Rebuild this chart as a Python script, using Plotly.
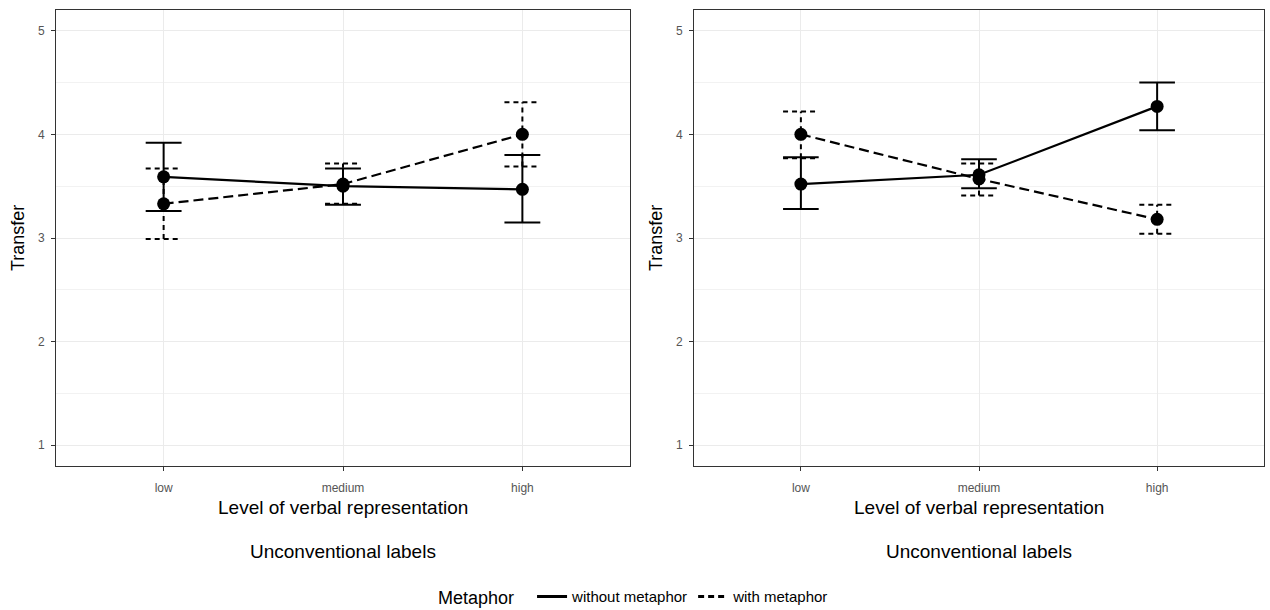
import plotly.graph_objects as go

categories = ["low", "medium", "high"]
x_pos = [1, 2, 3]

# Left panel
left_without = [3.59, 3.50, 3.47]
left_without_lo = [3.26, 3.32, 3.15]
left_without_hi = [3.92, 3.67, 3.80]
left_with = [3.33, 3.52, 4.00]
left_with_lo = [2.99, 3.33, 3.69]
left_with_hi = [3.67, 3.72, 4.31]

# Right panel
right_without = [3.52, 3.61, 4.27]
right_without_lo = [3.28, 3.48, 4.04]
right_without_hi = [3.78, 3.76, 4.50]
right_with = [4.00, 3.57, 3.18]
right_with_lo = [3.77, 3.41, 3.04]
right_with_hi = [4.22, 3.72, 3.32]

series_names = ["without metaphor", "with metaphor"]
y_ticks = [1, 2, 3, 4, 5]

CAP = 0.1
fig = go.Figure()


def err_xy(xs, lo, hi):
    ex, ey = [], []
    for x, l, h in zip(xs, lo, hi):
        ex += [x, x, None, x - CAP, x + CAP, None, x - CAP, x + CAP, None]
        ey += [l, h, None, l, l, None, h, h, None]
    return ex, ey


panels = [
    ("x", "y", left_without, left_without_lo, left_without_hi, left_with, left_with_lo, left_with_hi),
    ("x2", "y2", right_without, right_without_lo, right_without_hi, right_with, right_with_lo, right_with_hi),
]

for xa, ya, wo, wol, woh, wi, wil, wih in panels:
    for name, vals, lo, hi, dash, edash in [
        (series_names[0], wo, wol, woh, "solid", "solid"),
        (series_names[1], wi, wil, wih, "10px,5px", "5px,4px"),
    ]:
        ex, ey = err_xy(x_pos, lo, hi)
        fig.add_trace(go.Scatter(x=ex, y=ey, mode="lines", xaxis=xa, yaxis=ya,
                                 line=dict(color="black", width=2, dash=edash),
                                 showlegend=False, hoverinfo="skip"))
        fig.add_trace(go.Scatter(x=x_pos, y=vals, mode="lines+markers", xaxis=xa, yaxis=ya,
                                 name=name, showlegend=False,
                                 line=dict(color="black", width=2.2, dash=dash),
                                 marker=dict(color="black", size=13)))

# legend-only entries (line keys)
for name, dash in [(series_names[0], "solid"), (series_names[1], "6px,4px")]:
    fig.add_trace(go.Scatter(x=[None], y=[None], mode="lines", name=name,
                             line=dict(color="black", width=3, dash=dash), showlegend=True))

axis_common = dict(showline=True, mirror=True, linecolor="#333333", linewidth=1,
                   ticks="outside", ticklen=4, tickcolor="#333333",
                   tickfont=dict(family="Liberation Sans", size=12, color="#555555"),
                   gridcolor="#EBEBEB", gridwidth=1, zeroline=False, automargin=False)

fig.update_layout(
    width=1270, height=610,
    margin=dict(l=0, r=0, t=0, b=0, autoexpand=False),
    paper_bgcolor="white", plot_bgcolor="white",
    font=dict(family="Liberation Sans", color="black"),
    xaxis=dict(domain=[56 / 1270, 630 / 1270], range=[0.4, 3.6], tickvals=x_pos,
               ticktext=categories, anchor="y", ticklabelstandoff=7, **axis_common),
    yaxis=dict(domain=[1 - 466 / 610, 1 - 10 / 610], range=[0.8, 5.2], tickvals=y_ticks,
               anchor="x", ticklabelstandoff=4,
               minor=dict(dtick=0.5, tick0=0, showgrid=True, gridcolor="#F2F2F2", ticks=""),
               **axis_common),
    xaxis2=dict(domain=[694 / 1270, 1264 / 1270], range=[0.4, 3.6], tickvals=x_pos,
                ticktext=categories, anchor="y2", ticklabelstandoff=7, **axis_common),
    yaxis2=dict(domain=[1 - 466 / 610, 1 - 10 / 610], range=[0.8, 5.2], tickvals=y_ticks,
                anchor="x2", ticklabelstandoff=4,
                minor=dict(dtick=0.5, tick0=0, showgrid=True, gridcolor="#F2F2F2", ticks=""),
                **axis_common),
    legend=dict(orientation="h", x=0.5, xanchor="center", y=-0.007, yanchor="bottom",
                title=dict(text="Metaphor  ", font=dict(size=18, color="black")),
                font=dict(size=15, color="black"), itemwidth=30),
    showlegend=True,
)

annos = []
for cx, xt in [((56 + 630) / 2 / 1270, 18 / 1270), ((694 + 1264) / 2 / 1270, 656 / 1270)]:
    annos.append(dict(x=cx, y=1 - 507 / 610, xref="paper", yref="paper", text="Level of verbal representation",
                      showarrow=False, font=dict(size=19, color="black"), xanchor="center", yanchor="middle"))
    annos.append(dict(x=cx, y=1 - 551 / 610, xref="paper", yref="paper", text="Unconventional labels",
                      showarrow=False, font=dict(size=19, color="black"), xanchor="center", yanchor="middle"))
    annos.append(dict(x=xt, y=1 - 238 / 610, xref="paper", yref="paper", text="Transfer", textangle=-90,
                      showarrow=False, font=dict(size=18, color="black"), xanchor="center", yanchor="middle"))
fig.update_layout(annotations=annos)

fig.write_html("out.html", config={"displayModeBar": False},
               post_script="document.body.style.margin='0';document.body.style.overflow='hidden';")
